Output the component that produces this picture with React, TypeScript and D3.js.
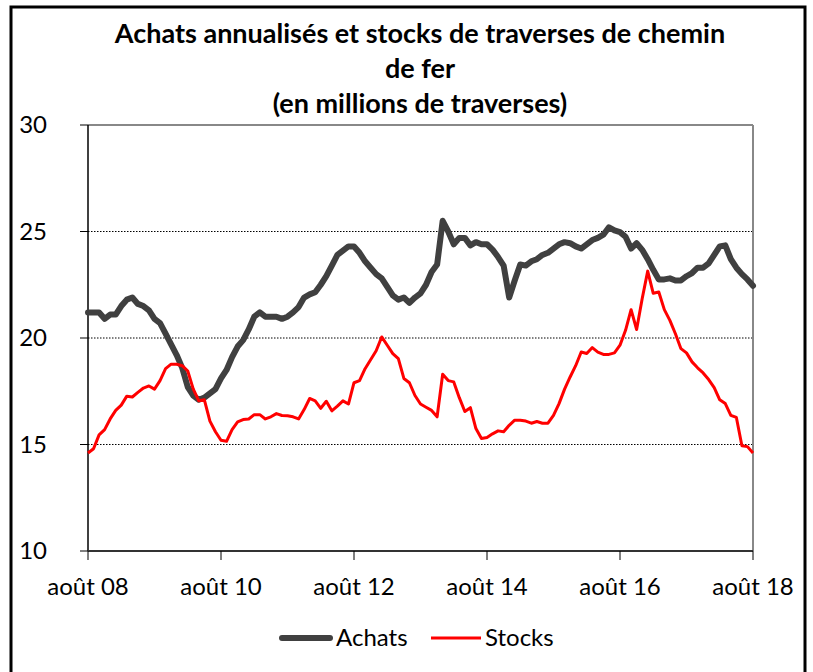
import React from 'react';
import * as d3 from 'd3';

// monthly values, août 2008 -> août 2018
const achats = [
  21.2, 21.2, 21.2, 20.9, 21.1, 21.1, 21.5, 21.8, 21.9, 21.6, 21.5, 21.3, 20.9, 20.7, 20.2, 19.7,
  19.2, 18.6, 17.7, 17.3, 17.1, 17.2, 17.4, 17.6, 18.1, 18.5, 19.1, 19.6, 19.9, 20.4, 21.0, 21.2,
  21.0, 21.0, 21.0, 20.9, 21.0, 21.2, 21.45, 21.9, 22.05, 22.15, 22.5, 22.9, 23.4, 23.9, 24.1, 24.3,
  24.3, 24.0, 23.6, 23.3, 23.0, 22.8, 22.4, 22.0, 21.8, 21.9, 21.65, 21.9, 22.1, 22.5, 23.1, 23.45,
  25.5, 25.0, 24.4, 24.7, 24.7, 24.35, 24.5, 24.4, 24.4, 24.15, 23.8, 23.4, 21.9, 22.7, 23.45, 23.4,
  23.6, 23.7, 23.9, 24.0, 24.2, 24.4, 24.5, 24.45, 24.3, 24.2, 24.4, 24.6, 24.7, 24.85, 25.2, 25.05,
  24.97, 24.75, 24.2, 24.45, 24.14, 23.7, 23.2, 22.75, 22.75, 22.8, 22.7, 22.7, 22.9, 23.05, 23.3, 23.3,
  23.5, 23.9, 24.3, 24.35, 23.7, 23.3, 23.0, 22.75, 22.45,
];

const stocks = [
  14.6, 14.8, 15.45, 15.7, 16.2, 16.6, 16.85, 17.27, 17.23, 17.45, 17.65, 17.75, 17.6, 18.0, 18.56, 18.77,
  18.77, 18.7, 18.45, 17.6, 17.05, 17.1, 16.1, 15.6, 15.2, 15.15, 15.7, 16.06, 16.17, 16.2, 16.4, 16.4,
  16.2, 16.3, 16.45, 16.36, 16.35, 16.3, 16.2, 16.64, 17.16, 17.05, 16.7, 17.03, 16.58, 16.8, 17.05, 16.9,
  17.9, 18.0, 18.56, 18.98, 19.4, 20.05, 19.66, 19.27, 19.03, 18.1, 17.9, 17.3, 16.9, 16.75, 16.6, 16.3,
  18.3, 18.0, 17.94, 17.2, 16.55, 16.73, 15.75, 15.28, 15.33, 15.5, 15.64, 15.6, 15.9, 16.14, 16.14, 16.1,
  16.0, 16.08, 16.0, 16.0, 16.37, 16.92, 17.6, 18.17, 18.7, 19.34, 19.27, 19.55, 19.34, 19.23, 19.23, 19.3,
  19.66, 20.36, 21.33, 20.4, 21.84, 23.14, 22.1, 22.16, 21.33, 20.83, 20.2, 19.5, 19.3, 18.88, 18.6, 18.36,
  18.05, 17.67, 17.1, 16.92, 16.37, 16.27, 14.94, 14.9, 14.6,
];

const xTickMonths = [0, 24, 48, 72, 96, 120];
const xTickLabels = ['août 08', 'août 10', 'août 12', 'août 14', 'août 16', 'août 18'];
const yTicks = [10, 15, 20, 25, 30];
const gridValues = [15, 20, 25];

const titleLines = [
  'Achats annualisés et stocks de traverses de chemin',
  'de fer',
  '(en millions de traverses)',
];

const W = 813, H = 672;
const left = 88, right = 753, top = 125, bottom = 551;
const font = 'Lato, "Open Sans", sans-serif';

export default function App() {
  const x = d3.scaleLinear().domain([0, 120]).range([left, right]);
  const y = d3.scaleLinear().domain([10, 30]).range([bottom, top]);
  const line = d3.line<number>().x((d, i) => x(i)).y(d => y(d));

  return (
    <svg width={W} height={H} style={{ position: 'absolute', left: 0, top: 0, background: '#fff' }}>
      <rect x={11} y={7} width={794} height={680} fill="#fff" stroke="#000" strokeWidth={3} />

      {titleLines.map((t, i) => (
        <text key={i} x={420} y={43 + i * 35} textAnchor="middle" fontFamily={font}
          fontWeight="bold" fontSize={27} fill="#000">{t}</text>
      ))}

      {gridValues.map(v => (
        <line key={v} x1={left} x2={right} y1={y(v)} y2={y(v)} stroke="#000"
          strokeWidth={1} strokeDasharray="1.5,1.5" />
      ))}

      {/* plot border top/right */}
      <line x1={left} x2={right} y1={top} y2={top} stroke="#888" strokeWidth={2} />
      <line x1={right} x2={right} y1={top} y2={bottom} stroke="#888" strokeWidth={2} />

      {/* y axis */}
      <line x1={left} x2={left} y1={top} y2={bottom} stroke="#000" strokeWidth={1.5} />
      {yTicks.map(v => (
        <g key={v}>
          <line x1={left - 8} x2={left} y1={y(v)} y2={y(v)} stroke="#000" strokeWidth={1} />
          <text x={47} y={y(v) + 8} textAnchor="end" fontFamily={font} fontSize={24} fill="#000">{v}</text>
        </g>
      ))}

      {/* x axis */}
      <line x1={left} x2={right} y1={bottom} y2={bottom} stroke="#333" strokeWidth={2} />
      {xTickMonths.map((m, i) => (
        <g key={m}>
          <line x1={x(m)} x2={x(m)} y1={bottom} y2={bottom + 9} stroke="#000" strokeWidth={1} />
          <text x={x(m)} y={595} textAnchor="middle" fontFamily={font} fontSize={24} fill="#000">{xTickLabels[i]}</text>
        </g>
      ))}

      <path d={line(achats) || ''} fill="none" stroke="#404040" strokeWidth={6} strokeLinejoin="round" strokeLinecap="round" />
      <path d={line(stocks) || ''} fill="none" stroke="#ff0000" strokeWidth={3} strokeLinejoin="round" />

      {/* legend */}
      <line x1={282} x2={330} y1={638} y2={638} stroke="#404040" strokeWidth={6} strokeLinecap="round" />
      <text x={336} y={646} fontFamily={font} fontSize={24} fill="#000">Achats</text>
      <line x1={431} x2={481} y1={638} y2={638} stroke="#ff0000" strokeWidth={3} />
      <text x={485} y={646} fontFamily={font} fontSize={24} fill="#000">Stocks</text>
    </svg>
  );
}
